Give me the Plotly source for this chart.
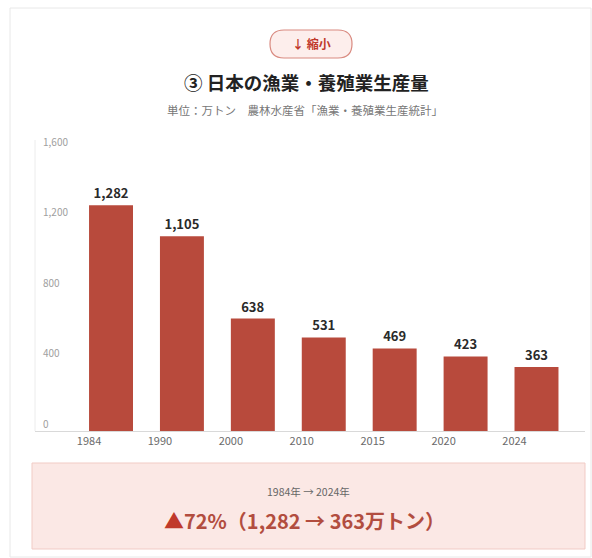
import plotly.graph_objects as go

# Japan fishery & aquaculture production (10,000 t)
years = ["1984", "1990", "2000", "2010", "2015", "2020", "2024"]
production = [1282, 1105, 638, 531, 469, 423, 363]
y_ticks = [0, 400, 800, 1200, 1600]
y_tick_text = ["0", "400", "800", "1,200", "1,600"]

W, H = 592, 558
ML, MR, MT, MB = 35, 7, 128, 127
PW, PH = W - ML - MR, H - MT - MB

BAR = "#b84a3c"
FONT = "Noto Sans CJK JP"


def px(x):
    return (x - ML) / PW


def py(y):
    return (H - MB - y) / PH


idx = list(range(len(years)))
labels = [f"{v:,}" for v in production]

fig = go.Figure(
    go.Bar(
        x=idx,
        y=production,
        width=0.62,
        marker=dict(color=BAR, line=dict(width=0)),
        text=labels,
        textposition="outside",
        textfont=dict(family=FONT, size=13, color="#2a2a2a", weight="bold"),
        cliponaxis=False,
        hoverinfo="skip",
    )
)

fig.update_layout(
    width=W,
    height=H,
    margin=dict(l=ML, r=MR, t=MT, b=MB),
    paper_bgcolor="white",
    plot_bgcolor="white",
    showlegend=False,
    font=dict(family=FONT),
    xaxis=dict(
        range=[-1.072, 6.684],
        tickmode="array",
        tickvals=idx,
        ticktext=years,
        ticklabelshift=-22,
        tickfont=dict(family=FONT, size=11, color="#6a6a6a"),
        showgrid=False,
        zeroline=False,
        showline=True,
        linecolor="#d9d9d9",
        linewidth=1,
        ticks="",
    ),
    yaxis=dict(
        range=[0, 1720],
        tickmode="array",
        tickvals=y_ticks,
        ticktext=y_tick_text,
        ticklabelposition="inside top",
        ticklabelstandoff=5,
        tickfont=dict(family=FONT, size=10, color="#a0a0a0"),
        showgrid=False,
        zeroline=False,
        showline=False,
        ticks="",
    ),
)

shapes = []
# outer card
shapes.append(dict(type="rect", xref="paper", yref="paper",
                   x0=px(10), x1=px(591), y0=py(557), y1=py(8),
                   line=dict(color="#e8e8e8", width=1), fillcolor="rgba(0,0,0,0)",
                   layer="below"))
# vertical value-axis rule
shapes.append(dict(type="line", xref="paper", yref="paper",
                   x0=0, x1=0, y0=0, y1=py(140),
                   line=dict(color="#ececec", width=1), layer="below"))
# badge pill
shapes.append(dict(type="path", xref="paper", yref="paper",
                   path=(f"M {px(284)},{py(30)} L {px(338)},{py(30)} "
                         f"Q {px(352)},{py(30)} {px(352)},{py(44)} "
                         f"Q {px(352)},{py(58)} {px(338)},{py(58)} "
                         f"L {px(284)},{py(58)} "
                         f"Q {px(270)},{py(58)} {px(270)},{py(44)} "
                         f"Q {px(270)},{py(30)} {px(284)},{py(30)} Z"),
                   line=dict(color="#d98a80", width=1.2), fillcolor="#fdeeec"))
# summary box
shapes.append(dict(type="rect", xref="paper", yref="paper",
                   x0=px(32), x1=px(585), y0=py(549), y1=py(463),
                   line=dict(color="#f1cbc5", width=1), fillcolor="#fbe8e5",
                   layer="below"))

annotations = [
    dict(text="↓ 縮小", x=px(311), y=py(44),
         font=dict(family=FONT, size=12, color="#c0392b", weight="bold")),
    dict(text="③ 日本の漁業・養殖業生産量", x=px(306), y=py(82),
         font=dict(family=FONT, size=18.5, color="#222222", weight="bold")),
    dict(text="単位：万トン　農林水産省「漁業・養殖業生産統計」", x=px(305), y=py(110),
         font=dict(family=FONT, size=11.5, color="#777777")),
    dict(text="1984年 → 2024年", x=px(308), y=py(491),
         font=dict(family=FONT, size=10.5, color="#666666")),
    dict(text=("<span style='color:#c0392b'>▲</span>72%（1,282 → 363万トン）"),
         x=px(304), y=py(520),
         font=dict(family=FONT, size=20, color="#b24d3f", weight="bold")),
]
for a in annotations:
    a.update(xref="paper", yref="paper", showarrow=False,
             xanchor="center", yanchor="middle")

fig.update_layout(shapes=shapes, annotations=annotations)
fig.write_html("out.html")
